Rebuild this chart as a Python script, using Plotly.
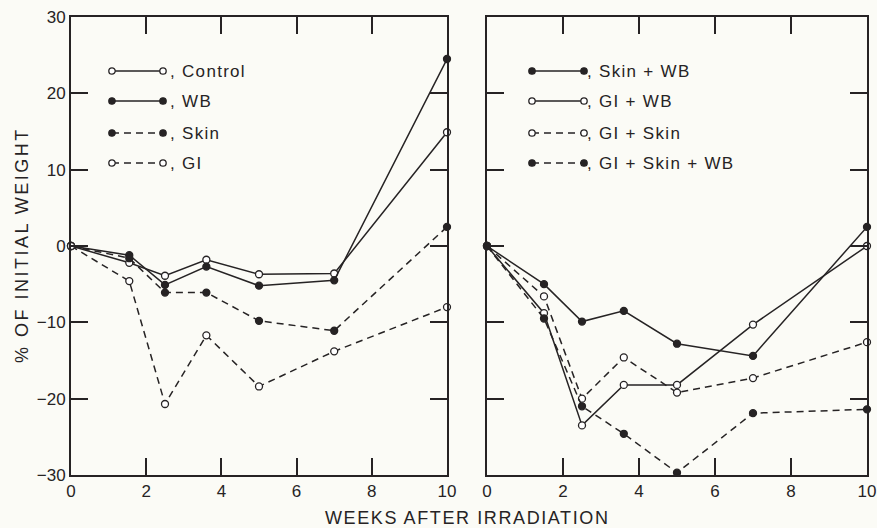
import plotly.graph_objects as go

# ---------------- data ----------------
weeks = [0, 1.55, 2.5, 3.6, 5.0, 7.0, 10]
weeks_r = [0, 1.5, 2.5, 3.6, 5.0, 7.0, 10]

control = [0, -2.2, -3.9, -1.8, -3.7, -3.6, 14.9]
wb = [0, -1.2, -5.1, -2.7, -5.2, -4.5, 24.5]
skin = [0, -1.6, -6.1, -6.1, -9.8, -11.1, 2.5]
gi = [0, -4.6, -20.7, -11.7, -18.4, -13.8, -8.0]

skin_wb = [0, -5.0, -9.9, -8.5, -12.8, -14.4, 2.5]
gi_wb = [0, -8.8, -23.5, -18.2, -18.2, -10.3, 0.0]
gi_skin = [0, -6.6, -20.0, -14.6, -19.2, -17.3, -12.6]
gi_skin_wb = [0, -9.5, -21.0, -24.6, -29.7, -21.9, -21.4]

left_names = [", Control", ", WB", ", Skin", ", GI"]
right_names = [", Skin + WB", ", GI + WB", ", GI + Skin", ", GI + Skin + WB"]

x_ticks = [0, 2, 4, 6, 8, 10]
y_ticks = [-30, -20, -10, 0, 10, 20, 30]

# ---------------- style ----------------
W, H = 877, 528
INK = "#262324"
BG = "#fbfbf6"
FONT = "Liberation Sans, Arial, Helvetica, sans-serif"
DASH = "7px,5px"


def px(x):
    return x / W


def py(y):
    return 1 - y / H


def spaced(t, s):
    return '<span style="letter-spacing:%spx">%s</span>' % (s, t)


fig = go.Figure()


def add_series(xs, ys, filled, dashed, xa, ya):
    fig.add_trace(go.Scatter(
        x=xs, y=ys, mode="lines+markers", xaxis=xa, yaxis=ya,
        line=dict(color=INK, width=1.5, dash=DASH if dashed else "solid"),
        marker=dict(symbol="circle", size=7,
                    color=INK if filled else "white",
                    line=dict(color=INK, width=1.3)),
        cliponaxis=False, showlegend=False, hoverinfo="x+y",
    ))


# left panel
add_series(weeks, control, False, False, "x", "y")
add_series(weeks, wb, True, False, "x", "y")
add_series(weeks, skin, True, True, "x", "y")
add_series(weeks, gi, False, True, "x", "y")
# right panel
add_series(weeks_r, skin_wb, True, False, "x2", "y2")
add_series(weeks_r, gi_wb, False, False, "x2", "y2")
add_series(weeks_r, gi_skin, False, True, "x2", "y2")
add_series(weeks_r, gi_skin_wb, True, True, "x2", "y2")

axis_common = dict(
    showline=True, linewidth=2, linecolor=INK, mirror="ticks",
    ticks="inside", ticklen=17, tickwidth=1.5, tickcolor=INK,
    showgrid=False, zeroline=False, automargin=False,
    ticklabeloverflow="allow",
    tickfont=dict(family=FONT, size=17, color=INK),
)

fig.update_layout(
    template="none",
    width=W, height=H,
    margin=dict(l=0, r=0, t=0, b=0, pad=0, autoexpand=False),
    paper_bgcolor=BG, plot_bgcolor=BG,
    showlegend=False,
    xaxis=dict(domain=[px(71), px(447)], range=[0, 10], tickvals=x_ticks,
               anchor="y", **axis_common),
    yaxis=dict(domain=[py(475), py(17)], range=[-30, 30], tickvals=y_ticks,
               anchor="x", **axis_common),
    xaxis2=dict(domain=[px(487), px(867)], range=[0, 10], tickvals=x_ticks,
                anchor="y2", **axis_common),
    yaxis2=dict(domain=[py(475), py(17)], range=[-30, 30], tickvals=y_ticks,
                anchor="x2", showticklabels=False, **axis_common),
)

shapes = []
annotations = []


def legend_key(x0, x1, y, filled, dashed, label, tx):
    shapes.append(dict(type="line", xref="paper", yref="paper",
                       x0=px(x0), x1=px(x1), y0=py(y), y1=py(y),
                       line=dict(color=INK, width=1.5,
                                 dash=DASH if dashed else "solid")))
    for xx in (x0, x1):
        shapes.append(dict(type="circle", xref="paper", yref="paper",
                           xsizemode="pixel", ysizemode="pixel",
                           xanchor=px(xx), yanchor=py(y),
                           x0=-3.2, x1=3.2, y0=-3.2, y1=3.2,
                           fillcolor=INK if filled else "white",
                           line=dict(color=INK, width=1.3)))
    annotations.append(dict(text=spaced(label, 1.3), xref="paper", yref="paper",
                            x=px(tx), y=py(y), xanchor="left", yanchor="middle",
                            showarrow=False,
                            font=dict(family=FONT, size=17, color=INK)))


left_styles = [(False, False), (True, False), (True, True), (False, True)]
right_styles = [(True, False), (False, False), (False, True), (True, True)]
key_y = [71, 101, 133, 163]

for (f, d), name, yy in zip(left_styles, left_names, key_y):
    legend_key(112, 163, yy, f, d, name, 168)
for (f, d), name, yy in zip(right_styles, right_names, key_y):
    legend_key(532, 584, yy, f, d, name, 585)

annotations.append(dict(text=spaced("WEEKS AFTER IRRADIATION", 1.6),
                        xref="paper", yref="paper",
                        x=px(467), y=py(518), xanchor="center", yanchor="middle",
                        showarrow=False,
                        font=dict(family=FONT, size=18, color=INK)))
annotations.append(dict(text=spaced("% OF INITIAL WEIGHT", 2.5),
                        xref="paper", yref="paper",
                        x=px(22), y=py(245), xanchor="center", yanchor="middle",
                        textangle=-90, showarrow=False,
                        font=dict(family=FONT, size=18, color=INK)))

fig.update_layout(shapes=shapes, annotations=annotations)

# remove the default 8px page margin so the 877x528 figure fills the window
fig.write_html(
    "out.html",
    config={"displayModeBar": False},
    post_script=("document.body.style.margin='0';"
                 "document.documentElement.style.overflow='hidden';"
                 "document.body.style.background='" + BG + "';"),
)
